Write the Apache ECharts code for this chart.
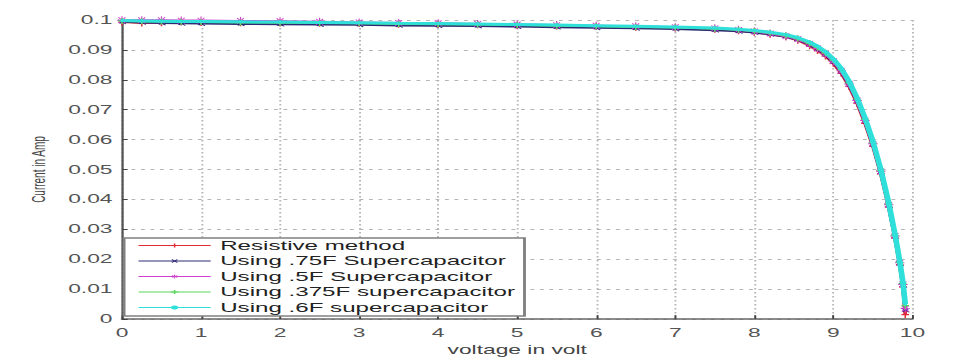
<!DOCTYPE html>
<html>
<head>
<meta charset="utf-8">
<script src="https://cdn.jsdelivr.net/npm/echarts@6/dist/echarts.min.js"></script>
<style>
html,body{margin:0;padding:0;background:#fff;overflow:hidden;}
#wrap{width:965px;height:361px;position:relative;overflow:hidden;}
/* the reference picture is a horizontally stretched figure: draw at a narrower width and stretch */
#c{width:508px;height:361px;transform:scaleX(1.9);transform-origin:0 0;}
</style>
</head>
<body>
<div id="wrap"><div id="c"></div></div>
<script>
// ---- data ----
const voltage = [0, 0.25, 0.5, 0.75, 1, 1.5, 2, 2.5, 3, 3.5, 4, 4.5, 5, 5.5, 6, 6.5, 7, 7.5, 7.8, 8.0, 8.2, 8.4, 8.55, 8.7, 8.8, 8.9, 9.0, 9.1, 9.2, 9.3, 9.4, 9.5, 9.6, 9.7, 9.78, 9.84, 9.88, 9.91];

const resistive = [0.0993, 0.0990, 0.0991, 0.0993, 0.0992, 0.0991, 0.0990, 0.0989, 0.0988, 0.0986, 0.0985, 0.0984, 0.0982, 0.0980, 0.0978, 0.0976, 0.0973, 0.0969, 0.0964, 0.0959, 0.0952, 0.0944, 0.0932, 0.0914, 0.0898, 0.0880, 0.0855, 0.0822, 0.0778, 0.0722, 0.0655, 0.0578, 0.0486, 0.0375, 0.0272, 0.0182, 0.0108, 0.0015];
const cap075 = [0.0994, 0.0992, 0.0990, 0.0989, 0.0988, 0.0987, 0.0986, 0.0985, 0.0984, 0.0982, 0.0981, 0.0980, 0.0978, 0.0976, 0.0974, 0.0972, 0.0970, 0.0966, 0.0962, 0.0958, 0.0952, 0.0944, 0.0934, 0.0917, 0.0902, 0.0884, 0.0859, 0.0827, 0.0783, 0.0728, 0.0661, 0.0583, 0.0491, 0.0379, 0.0275, 0.0185, 0.0113, 0.0030];
const cap05 = [0.0999, 0.0999, 0.0999, 0.0998, 0.0998, 0.0997, 0.0996, 0.0994, 0.0992, 0.0990, 0.0989, 0.0987, 0.0985, 0.0983, 0.0981, 0.0979, 0.0976, 0.0972, 0.0967, 0.0962, 0.0955, 0.0946, 0.0936, 0.0920, 0.0905, 0.0887, 0.0862, 0.0830, 0.0786, 0.0731, 0.0664, 0.0586, 0.0494, 0.0382, 0.0278, 0.0188, 0.0116, 0.0035];
const cap0375 = [0.0997, 0.0996, 0.0995, 0.0994, 0.0993, 0.0992, 0.0991, 0.0990, 0.0989, 0.0987, 0.0986, 0.0985, 0.0983, 0.0981, 0.0979, 0.0977, 0.0975, 0.0971, 0.0967, 0.0963, 0.0957, 0.0948, 0.0938, 0.0922, 0.0908, 0.0890, 0.0866, 0.0834, 0.0790, 0.0735, 0.0668, 0.0590, 0.0497, 0.0385, 0.0280, 0.0190, 0.0120, 0.0045];
const cap06 = [0.0998, 0.0997, 0.0996, 0.0995, 0.0995, 0.0994, 0.0993, 0.0992, 0.0991, 0.0989, 0.0988, 0.0987, 0.0985, 0.0983, 0.0981, 0.0979, 0.0977, 0.0973, 0.0969, 0.0965, 0.0959, 0.0951, 0.0941, 0.0926, 0.0912, 0.0894, 0.0870, 0.0838, 0.0795, 0.0740, 0.0673, 0.0595, 0.0501, 0.0389, 0.0284, 0.0194, 0.0124, 0.0050];

const seriesNames = ['Resistive method', 'Using .75F Supercapacitor', 'Using .5F Supercapacitor', 'Using .375F supercapacitor', 'Using .6F supercapacitor'];
const xTickLabels = ['0','1','2','3','4','5','6','7','8','9','10'];
const yTickLabels = ['0','0.01','0.02','0.03','0.04','0.05','0.06','0.07','0.08','0.09','0.1'];
// ---------------------------------------

const seriesValues = [resistive, cap075, cap05, cap0375, cap06];
const colors = ['#e02a34', '#2c2a74', '#cf3fcf', '#5cd65c', '#2fe0da'];
const plus = 'path://M4,0H6V4H10V6H6V10H4V6H0V4H4Z';
const star = 'path://M4.4,0H5.6V3.6L8.2,1L9,1.8L6.4,4.4H10V5.6H6.4L9,8.2L8.2,9L5.6,6.4V10H4.4V6.4L1.8,9L1,8.2L3.6,5.6H0V4.4H3.6L1,1.8L1.8,1L4.4,3.6Z';
const symbols = [plus, plus, star, plus, 'circle'];
const rotates = [0, 45, 0, 0, 0];
const sizes = [[4, 7], [4, 6], [5, 8], [4, 6], [2, 3]];

const chart = echarts.init(document.getElementById('c'), null, {renderer: 'svg'});
const font = 'Liberation Sans, Arial, sans-serif';
chart.setOption({
  animation: false,
  backgroundColor: '#fff',
  grid: {left: 64.2, right: 27.8, top: 20, bottom: 40},
  xAxis: {
    type: 'value', min: 0, max: 10, interval: 1,
    name: 'voltage in volt', nameLocation: 'middle', nameGap: 16,
    nameTextStyle: {fontFamily: font, fontSize: 12, color: '#444'},
    axisLine: {show: true, lineStyle: {color: '#666', width: 1.5}},
    axisTick: {show: true, inside: true, length: 4, lineStyle: {color: '#444'}},
    axisLabel: {fontFamily: font, fontSize: 12, color: '#555', margin: 8,
      formatter: (v) => xTickLabels[Math.round(v)]},
    splitLine: {show: true, lineStyle: {color: '#b5b5b5', type: [1.5, 2.5], width: 1}}
  },
  yAxis: {
    type: 'value', min: 0, max: 0.1, interval: 0.01,
    name: 'Current in Amp', nameLocation: 'middle', nameGap: 37, nameRotate: 90,
    nameTextStyle: {fontFamily: font, fontSize: 10, color: '#444'},
    axisLine: {show: true, lineStyle: {color: '#555', width: 1.2}},
    axisTick: {show: true, inside: true, length: 3, lineStyle: {color: '#444'}},
    axisLabel: {fontFamily: font, fontSize: 12, color: '#555', margin: 5,
      formatter: (v) => yTickLabels[Math.round(v * 100)]},
    splitLine: {show: true, lineStyle: {color: '#b5b5b5', type: [2, 3], width: 1}}
  },
  legend: {
    orient: 'vertical', left: 65.3, top: 238,
    data: seriesNames,
    itemWidth: 38, itemHeight: 5, itemGap: 2.5,
    padding: [1, 5, 2, 7],
    borderColor: '#808080', borderWidth: 1.5, backgroundColor: '#fff',
    lineStyle: {width: 1.2},
    textStyle: {fontFamily: font, fontSize: 12.7, color: '#222', lineHeight: 13, padding: [0, 0, 0, 0]}
  },
  series: seriesNames.map((name, i) => ({
    name: name, type: 'line', z: 2 + i,
    data: voltage.map((v, k) => [v, seriesValues[i][k]]),
    showSymbol: true, symbol: symbols[i], symbolSize: sizes[i], symbolRotate: rotates[i],
    lineStyle: {color: colors[i], width: i === 4 ? 3 : 2},
    itemStyle: {color: colors[i]},
    emphasis: {disabled: true}
  }))
});
</script>
</body>
</html>
